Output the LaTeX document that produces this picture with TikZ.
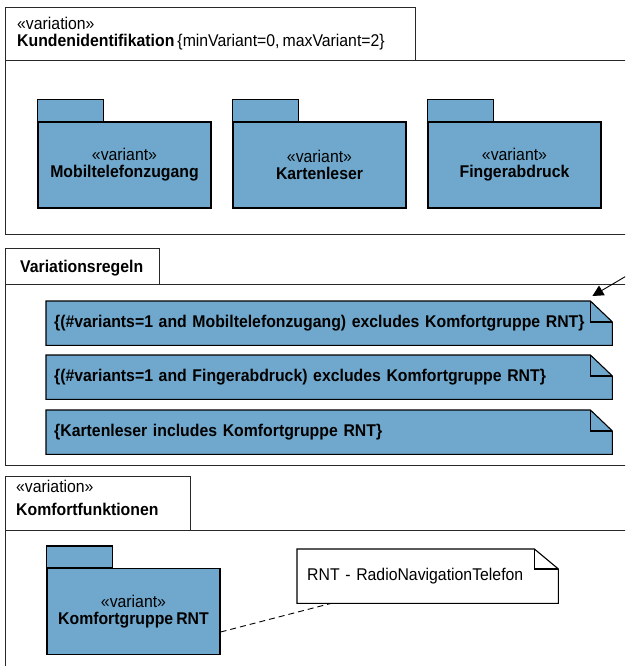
\documentclass[tikz,border=0pt]{standalone}
\usepackage{fontspec}
\setmainfont[FakeStretch=0.93, WordSpace=0.7]{Liberation Sans}
\usetikzlibrary{arrows.meta}

\definecolor{pkgblue}{RGB}{111,168,204}
\definecolor{frameline}{RGB}{40,40,40}

\pgfdeclarelayer{background}
\pgfsetlayers{background,main}

\tikzset{
  umlfont/.style={font=\fontsize{17}{17}\selectfont},
  framebox/.style={draw=frameline, line width=1pt},
  frametext/.style={umlfont, inner sep=0pt, anchor=base west},
  pkgbody/.style={umlfont, draw=black, line width=1.2pt, fill=pkgblue, minimum width=173pt, minimum height=86pt, align=center, inner sep=0pt},
  pkgtab/.style={draw=black, line width=1.2pt, fill=pkgblue},
  rulenote/.style={anchor=north west, text width=550pt, align=left, inner xsep=8pt, inner ysep=0pt, minimum height=44pt, font=\fontsize{17}{17}\selectfont\bfseries},
  plainnote/.style={umlfont, anchor=north west, text width=241pt, align=left, inner xsep=10pt, inner ysep=0pt, minimum height=54pt},
  noteline/.style={draw=black, line width=1.1pt},
}

\begin{document}
\begin{tikzpicture}[x=1pt, y=-1pt]
            \def \xpkgA  {124.5}
            \def \xpkgB  {319.5}
            \def \xpkgC  {514.5}
            \def \ypkg   {165}
            \def \xframe {5}
            \def \xend   {660}

            \clip (0,0) rectangle (625,666);

% frame: Kundenidentifikation
            \draw [framebox] (\xframe, 61) rectangle (\xend, 234);
            \draw [framebox, fill=white] (\xframe, 8) rectangle (415, 61);
            \node [frametext] (kundenstereo) at (17, 30) {«variation»};
            \node [frametext] (kundenname) at (17, 47) {\textbf{Kundenidentifikation} \{minVariant=0, maxVariant=2\}};

% variant packages
            \node [pkgbody] (mobil) at (\xpkgA, \ypkg) {«variant»\\\textbf{Mobiltelefonzugang}};
            \node [pkgbody] (karte) at (\xpkgB, \ypkg) {«variant»\\\textbf{Kartenleser}};
            \node [pkgbody] (finger) at (\xpkgC, \ypkg) {«variant»\\\textbf{Fingerabdruck}};
            \foreach \pkg in {mobil, karte, finger}
                \draw [pkgtab] (\pkg.north west) rectangle ++(66, -22);

% frame: Variationsregeln
            \draw [framebox] (\xframe, 284) rectangle (\xend, 465);
            \draw [framebox, fill=white] (\xframe, 248) rectangle (159, 284);
            \node [frametext] (regelname) at (20, 272) {\textbf{Variationsregeln}};

% rules
            \node [rulenote] (ruleA) at (46, 301) {\{(\#variants=1 and Mobiltelefonzugang) excludes Komfortgruppe RNT\}};
            \node [rulenote] (ruleB) at (46, 355) {\{(\#variants=1 and Fingerabdruck) excludes Komfortgruppe RNT\}};
            \node [rulenote] (ruleC) at (46, 410) {\{Kartenleser includes Komfortgruppe RNT\}};
            \begin{pgfonlayer}{background}
            \foreach \rule in {ruleA, ruleB, ruleC} {
                \filldraw [noteline, fill=pkgblue] (\rule.north west) -- ([xshift=-22pt]\rule.north east) -- ([yshift=-21pt]\rule.north east) -- (\rule.south east) -- (\rule.south west) -- cycle;
                \draw [noteline] ([xshift=-22pt]\rule.north east) -- ([xshift=-22pt, yshift=-21pt]\rule.north east) -- ([yshift=-21pt]\rule.north east);
            }
            \end{pgfonlayer}

% incoming arrow
            \coordinate (arrowfrom) at (645, 265);
            \draw [line width=0.9pt, -{Triangle[length=11pt, width=11pt]}] (arrowfrom) -- ([xshift=-20pt, yshift=5pt]ruleA.north east);

% frame: Komfortfunktionen
            \draw [framebox] (\xframe, 530) rectangle (\xend, 690);
            \draw [framebox, fill=white] (\xframe, 476) rectangle (190, 530);
            \node [frametext] (komfortstereo) at (16, 492) {«variation»};
            \node [frametext] (komfortname) at (16, 515) {\textbf{Komfortfunktionen}};

            \node [pkgbody] (komfort) at (133.5, 611.5) {«variant»\\\textbf{Komfortgruppe RNT}};
            \draw [pkgtab] (komfort.north west) rectangle ++(66, -22);

% comment note
            \node [plainnote] (rntnote) at (297, 549) {RNT - RadioNavigationTelefon};
            \begin{pgfonlayer}{background}
            \filldraw [noteline, fill=white] (rntnote.north west) -- ([xshift=-24pt]rntnote.north east) -- ([yshift=-20pt]rntnote.north east) -- (rntnote.south east) -- (rntnote.south west) -- cycle;
            \draw [noteline] ([xshift=-24pt]rntnote.north east) -- ([xshift=-24pt, yshift=-20pt]rntnote.north east) -- ([yshift=-20pt]rntnote.north east);
            \end{pgfonlayer}
            \draw [line width=0.9pt, dash pattern=on 6pt off 4pt] ([yshift=-20.5pt]komfort.east) -- ([xshift=34pt]rntnote.south west);

        \end{tikzpicture}
\end{document}
